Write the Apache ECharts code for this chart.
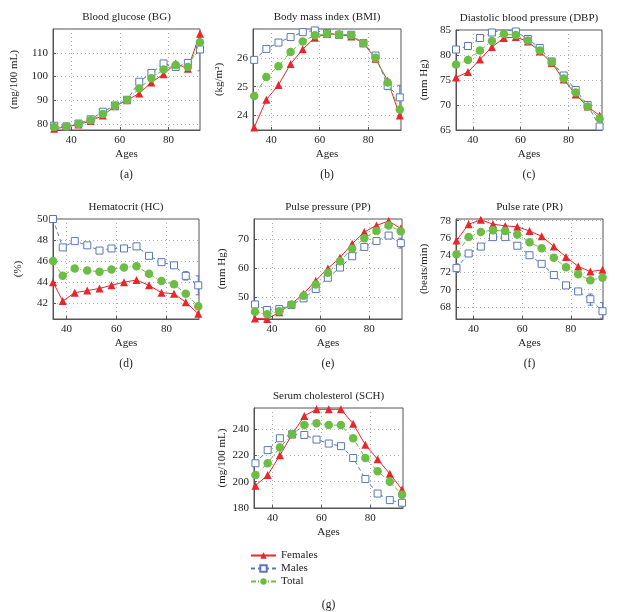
<!DOCTYPE html>
<html><head><meta charset="utf-8">
<script src="https://cdn.jsdelivr.net/npm/echarts@6/dist/echarts.min.js"></script>
<style>html,body{margin:0;background:#fff}#c{width:630px;height:612px}</style>
</head><body><div id="c"></div>
<script>
// Ages (x values)
const ages = [33, 38, 43, 48, 53, 58, 63, 68, 73, 78, 83, 88, 93];
const hcAges = [34.6, 38.5, 43.3, 48.3, 53.2, 58, 63, 68, 73, 78, 83, 87.7, 92.7];
const xTicks = [40, 60, 80];

// (a) Blood glucose
const bgF = [78.0, 78.8, 79.8, 81.3, 83.6, 87.5, 90.0, 92.9, 97.5, 101.0, 105.5, 103.3, 118.0];
const bgM = [79.3, 79.0, 80.2, 82.0, 85.2, 87.8, 90.2, 97.8, 101.5, 105.5, 104.0, 105.7, 111.4];
const bgT = [78.8, 79.0, 80.0, 81.6, 84.2, 87.7, 90.1, 95.0, 99.3, 103.0, 104.8, 104.0, 114.4];
const bgMLow  = [null, null, null, null, null, null, null, null, null, null, null, 104.2, 102.4];
const bgMHigh = [null, null, null, null, null, null, null, null, null, null, null, 107.2, 112.2];
const bgTicks = [80, 90, 100, 110];

// (b) Body mass index
const bmiF = [23.59, 24.55, 25.06, 25.79, 26.30, 26.70, 26.83, 26.81, 26.74, 26.51, 25.97, 25.21, 24.00];
const bmiM = [25.93, 26.31, 26.53, 26.72, 26.89, 26.95, 26.86, 26.80, 26.80, 26.51, 26.08, 25.03, 24.63];
const bmiT = [24.68, 25.34, 25.71, 26.20, 26.57, 26.78, 26.83, 26.81, 26.78, 26.51, 26.00, 25.15, 24.21];
const bmiMLow  = [null, null, null, null, null, null, null, null, null, null, null, 24.9, 24.2];
const bmiMHigh = [null, null, null, null, null, null, null, null, null, null, null, 25.15, 25.05];
const bmiTicks = [24, 25, 26];

// (c) Diastolic blood pressure
const dbpF = [75.5, 76.6, 79.1, 81.6, 83.4, 83.6, 82.7, 80.7, 78.4, 75.1, 72.1, 69.7, 67.9];
const dbpM = [81.1, 81.8, 83.4, 84.5, 85.1, 84.7, 83.2, 81.4, 78.7, 75.9, 73.0, 70.0, 65.7];
const dbpT = [78.1, 79.0, 80.9, 82.8, 84.2, 84.0, 82.9, 80.9, 78.6, 75.3, 72.5, 69.7, 67.3];
const dbpMLow  = [null, null, null, null, null, null, null, null, null, null, null, null, 65.0];
const dbpMHigh = [null, null, null, null, null, null, null, null, null, null, null, null, 66.6];
const dbpTicks = [65, 70, 75, 80, 85];

// (d) Hematocrit
const hcF = [44.0, 42.2, 43.0, 43.2, 43.4, 43.7, 44.0, 44.2, 43.7, 43.0, 42.9, 42.1, 41.0];
const hcM = [50.0, 47.3, 47.9, 47.5, 47.0, 47.2, 47.2, 47.4, 46.5, 45.9, 45.6, 44.6, 43.7];
const hcT = [46.0, 44.6, 45.3, 45.1, 45.0, 45.2, 45.4, 45.5, 44.8, 44.1, 43.8, 42.9, 41.7];
const hcMLow  = [null, null, null, null, null, null, null, null, null, null, null, 44.2, 42.8];
const hcMHigh = [null, null, null, null, null, null, null, null, null, null, null, 45.0, 44.6];
const hcTicks = [42, 44, 46, 48, 50];

// (e) Pulse pressure
const ppF = [42.8, 42.6, 44.9, 47.8, 51.3, 55.8, 60.0, 63.7, 68.5, 72.5, 74.8, 76.3, 73.7];
const ppM = [47.6, 45.7, 46.0, 47.4, 49.7, 52.9, 56.8, 60.3, 64.2, 67.4, 69.4, 71.3, 68.7];
const ppT = [45.1, 44.2, 45.3, 47.6, 50.6, 54.5, 58.5, 62.5, 66.8, 70.4, 72.9, 74.8, 72.8];
const ppMLow  = [null, null, null, null, null, null, null, null, null, null, null, null, 67.0];
const ppMHigh = [null, null, null, null, null, null, null, null, null, null, null, null, 70.4];
const ppTicks = [50, 60, 70];

// (f) Pulse rate
const prF = [75.7, 77.6, 78.1, 77.6, 77.4, 77.3, 76.8, 76.2, 75.0, 73.8, 72.7, 72.1, 72.3];
const prM = [72.5, 74.2, 75.0, 76.1, 76.1, 75.1, 74.0, 73.0, 71.7, 70.5, 69.8, 68.9, 67.5];
const prT = [74.1, 76.1, 76.7, 76.9, 76.8, 76.4, 75.5, 74.8, 73.7, 72.6, 71.8, 71.1, 71.4];
const prMLow  = [72.0, null, null, null, null, null, null, null, null, null, null, 68.2, 66.7];
const prMHigh = [73.0, null, null, null, null, null, null, null, null, null, null, 69.5, 68.5];
const prTicks = [68, 70, 72, 74, 76, 78];

// (g) Serum cholesterol
const schF = [197, 205, 220, 236, 250, 255, 255, 255, 244, 228, 217, 206, 194];
const schM = [214, 224, 233, 236, 235.5, 232, 229, 227, 218, 202, 191, 186, 184];
const schT = [205, 214, 226, 236, 243, 244.5, 243, 243, 233, 218, 208, 200, 190];
const schMLow  = [null, null, null, null, null, null, null, null, null, null, null, 184, 179];
const schMHigh = [null, null, null, null, null, null, null, null, null, null, null, 188, 188];
const schTicks = [180, 200, 220, 240];

const seriesNames = ['Females', 'Males', 'Total'];

const panels = [
  {tag: '(a)', title: 'Blood glucose (BG)', unit: '(mg/100 mL)', x: ages, F: bgF, M: bgM, T: bgT, lo: bgMLow, hi: bgMHigh, yTicks: bgTicks, ymin: 77.5, ymax: 120, xmin: 32.5, xmax: 93},
  {tag: '(b)', title: 'Body mass index (BMI)', unit: '(kg/m\u00B2)', x: ages, F: bmiF, M: bmiM, T: bmiT, lo: bmiMLow, hi: bmiMHigh, yTicks: bmiTicks, ymin: 23.5, ymax: 27, xmin: 32.5, xmax: 93.5},
  {tag: '(c)', title: 'Diastolic blood pressure (DBP)', unit: '(mm Hg)', x: ages, F: dbpF, M: dbpM, T: dbpT, lo: dbpMLow, hi: dbpMHigh, yTicks: dbpTicks, ymin: 65, ymax: 85, xmin: 33, xmax: 94},
  {tag: '(d)', title: 'Hematocrit (HC)', unit: '(%)', x: hcAges, F: hcF, M: hcM, T: hcT, lo: hcMLow, hi: hcMHigh, yTicks: hcTicks, ymin: 40.5, ymax: 50, xmin: 34.6, xmax: 93},
  {tag: '(e)', title: 'Pulse pressure (PP)', unit: '(mm Hg)', x: ages, F: ppF, M: ppM, T: ppT, lo: ppMLow, hi: ppMHigh, yTicks: ppTicks, ymin: 42.6, ymax: 77, xmin: 32.6, xmax: 93.5},
  {tag: '(f)', title: 'Pulse rate (PR)', unit: '(beats/min)', x: ages, F: prF, M: prM, T: prT, lo: prMLow, hi: prMHigh, yTicks: prTicks, ymin: 66.6, ymax: 78.2, xmin: 32.8, xmax: 93.2},
  {tag: '(g)', title: 'Serum cholesterol (SCH)', unit: '(mg/100 mL)', x: ages, F: schF, M: schM, T: schT, lo: schMLow, hi: schMHigh, yTicks: schTicks, ymin: 180, ymax: 256, xmin: 32.4, xmax: 93.4}
];

const layout = [
  {left: 53, top: 29, width: 147, height: 101, gap: 33, tagTop: 169},
  {left: 253, top: 29, width: 148, height: 101, gap: 28, tagTop: 169},
  {left: 456, top: 30, width: 146, height: 100, gap: 26, tagTop: 169},
  {left: 53, top: 219, width: 146, height: 100, gap: 29, tagTop: 358},
  {left: 254, top: 219, width: 148, height: 100, gap: 26, tagTop: 358},
  {left: 456, top: 219, width: 147, height: 100, gap: 26, tagTop: 358},
  {left: 254, top: 408, width: 149, height: 100, gap: 26, tagTop: 599}
];

const FONT = 'Liberation Serif';
const RED = '#e8262b', BLUE = '#5a78b8', GREEN = '#6cbd45';
const AXC = '#555';

const grids = [], xAxes = [], yAxes = [], series = [], titles = [];
panels.forEach((p, i) => {
  const L = layout[i];
  grids.push({left: L.left, top: L.top, width: L.width, height: L.height, show: true, borderColor: AXC, borderWidth: 1, containLabel: false});
  const common = {
    gridIndex: i,
    axisLine: {show: true, lineStyle: {color: AXC, width: 1}},
    axisTick: {show: true, inside: true, length: 3, lineStyle: {color: AXC}},
    splitLine: {show: true, lineStyle: {color: '#b0b0b0', type: [1, 3], width: 1}},
    axisLabel: {color: '#222', fontFamily: FONT, fontSize: 11},
    nameTextStyle: {color: '#222', fontFamily: FONT, fontSize: 11}
  };
  xAxes.push(Object.assign({}, common, {
    type: 'value', min: p.xmin, max: p.xmax,
    axisTick: Object.assign({}, common.axisTick, {customValues: xTicks}),
    axisLabel: Object.assign({}, common.axisLabel, {customValues: xTicks, margin: 5}),
    name: 'Ages', nameLocation: 'middle', nameGap: 19
  }));
  yAxes.push(Object.assign({}, common, {
    type: 'value', min: p.ymin, max: p.ymax,
    axisTick: Object.assign({}, common.axisTick, {customValues: p.yTicks}),
    axisLabel: Object.assign({}, common.axisLabel, {customValues: p.yTicks, margin: 5}),
    name: p.unit, nameLocation: 'middle', nameGap: L.gap, nameRotate: 90
  }));
  const cx = L.left + L.width / 2;
  titles.push({text: p.title, left: cx, top: L.top - 17, textAlign: 'center', padding: 0,
    textStyle: {fontFamily: FONT, fontSize: 11, fontWeight: 'normal', color: '#222'}});
  titles.push({text: p.tag, left: cx, top: L.tagTop, textAlign: 'center', padding: 0,
    textStyle: {fontFamily: FONT, fontSize: 11.5, fontWeight: 'normal', color: '#222'}});
  const pts = arr => p.x.map((a, k) => [a, arr[k]]);
  series.push({
    type: 'line', name: seriesNames[0], xAxisIndex: i, yAxisIndex: i, data: pts(p.F),
    symbol: 'triangle', symbolSize: 8, itemStyle: {color: RED},
    lineStyle: {color: RED, width: 1}, z: 2
  });
  // male error bars
  const errData = [];
  p.x.forEach((a, k) => { if (p.lo[k] != null) errData.push([a, p.lo[k], p.hi[k]]); });
  series.push({
    type: 'custom', xAxisIndex: i, yAxisIndex: i, data: errData, z: 2, silent: true,
    clip: true,
    renderItem: (params, api) => {
      const lo = api.coord([api.value(0), api.value(1)]);
      const hi = api.coord([api.value(0), api.value(2)]);
      const w = 2.5;
      const st = {stroke: BLUE, lineWidth: 1};
      return {type: 'group', children: [
        {type: 'line', shape: {x1: lo[0], y1: lo[1], x2: hi[0], y2: hi[1]}, style: st},
        {type: 'line', shape: {x1: lo[0] - w, y1: lo[1], x2: lo[0] + w, y2: lo[1]}, style: st},
        {type: 'line', shape: {x1: hi[0] - w, y1: hi[1], x2: hi[0] + w, y2: hi[1]}, style: st}
      ]};
    }
  });
  series.push({
    type: 'line', name: seriesNames[1], xAxisIndex: i, yAxisIndex: i, data: pts(p.M),
    symbol: 'rect', symbolSize: 7, itemStyle: {color: '#fff', borderColor: BLUE, borderWidth: 1},
    lineStyle: {color: BLUE, width: 1, type: [4, 3]}, z: 3
  });
  series.push({
    type: 'line', name: seriesNames[2], xAxisIndex: i, yAxisIndex: i, data: pts(p.T),
    symbol: 'circle', symbolSize: 8.5, itemStyle: {color: GREEN},
    lineStyle: {color: GREEN, width: 1, type: [5, 2, 1, 2]}, z: 4
  });
});

const chart = echarts.init(document.getElementById('c'), null, {renderer: 'canvas'});
chart.setOption({
  animation: false,
  backgroundColor: '#fff',
  title: titles,
  grid: grids,
  xAxis: xAxes,
  yAxis: yAxes,
  legend: {
    data: seriesNames, orient: 'vertical', left: 250, top: 550, padding: 0,
    itemWidth: 25, itemHeight: 8, itemGap: 2,
    textStyle: {fontFamily: FONT, fontSize: 11, color: '#222'}
  },
  series: series
});
</script>
</body></html>
